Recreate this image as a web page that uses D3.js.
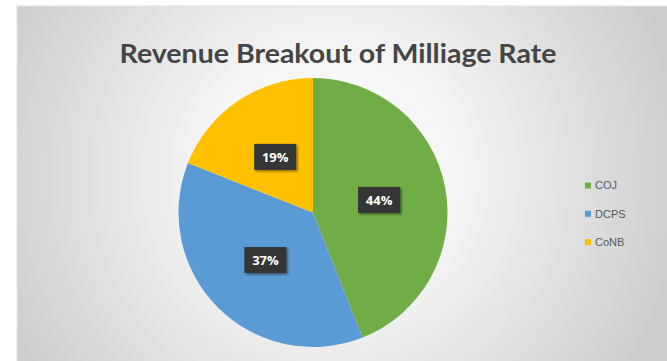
<!DOCTYPE html>
<html>
<head>
<meta charset="utf-8">
<script src="https://cdn.jsdelivr.net/npm/d3@7"></script>
<style>
  html, body { margin: 0; padding: 0; background: #ffffff; }
  svg { display: block; }
</style>
</head>
<body>
<svg id="chart" width="667" height="361"></svg>
<script>
// Share of millage-rate revenue by recipient
const categories = ["COJ", "DCPS", "CoNB"];
const shares = [44, 37, 19];
const colors = ["#70ad47", "#5b9bd5", "#ffc000"];
const titleText = "Revenue Breakout of Milliage Rate";

const svg = d3.select("#chart");
const W = 667, H = 361;

const defs = svg.append("defs");
const bg = defs.append("radialGradient")
  .attr("id", "bgGrad")
  .attr("gradientUnits", "userSpaceOnUse")
  .attr("cx", 330).attr("cy", 175).attr("r", 360);
bg.append("stop").attr("offset", "0%").attr("stop-color", "#ffffff");
bg.append("stop").attr("offset", "35%").attr("stop-color", "#f5f5f5");
bg.append("stop").attr("offset", "100%").attr("stop-color", "#cccccc");

const shadow = defs.append("filter").attr("id", "boxShadow")
  .attr("x", "-30%").attr("y", "-30%").attr("width", "160%").attr("height", "160%");
shadow.append("feDropShadow")
  .attr("dx", 1.5).attr("dy", 1.5).attr("stdDeviation", 1.2)
  .attr("flood-color", "#000").attr("flood-opacity", 0.45);

// Chart frame
svg.append("rect")
  .attr("x", 17).attr("y", 6)
  .attr("width", W - 17 + 2).attr("height", H - 6 + 2)
  .attr("fill", "url(#bgGrad)")
  .attr("stroke", "#e4e4e4").attr("stroke-width", 1);

// Title
svg.append("text")
  .attr("x", 338).attr("y", 63)
  .attr("text-anchor", "middle")
  .attr("font-family", "Lato, 'Open Sans', sans-serif")
  .attr("font-weight", "bold")
  .attr("font-size", 26)
  .attr("fill", "#454545")
  .attr("textLength", 437)
  .attr("lengthAdjust", "spacingAndGlyphs")
  .text(titleText);

// Pie
const cx = 313, cy = 212.5, R = 134.5;
const pie = d3.pie().sort(null).value(d => d.v);
const arcs = pie(categories.map((c, i) => ({ c, v: shares[i], col: colors[i] })));
const arc = d3.arc().innerRadius(0).outerRadius(R);

const g = svg.append("g").attr("transform", `translate(${cx},${cy})`);
g.selectAll("path.slice")
  .data(arcs)
  .join("path")
  .attr("class", "slice")
  .attr("d", arc)
  .attr("fill", d => d.data.col);

// Value labels in dark boxes
const lab = g.selectAll("g.lab")
  .data(arcs)
  .join("g")
  .attr("class", "lab")
  .attr("transform", d => {
    const [x, y] = arc.centroid(d);
    return `translate(${x},${y})`;
  });
lab.append("rect")
  .attr("x", -21).attr("y", -13)
  .attr("width", 42).attr("height", 26)
  .attr("fill", "#363636")
  .attr("filter", "url(#boxShadow)");
lab.append("text")
  .attr("text-anchor", "middle")
  .attr("dy", "0.36em")
  .attr("font-family", "'Open Sans', 'DejaVu Sans', sans-serif")
  .attr("font-weight", "bold")
  .attr("font-size", 13)
  .attr("fill", "#ffffff")
  .text(d => d.data.v + "%");

// Legend
const legend = svg.append("g").attr("transform", "translate(585,185.5)");
const item = legend.selectAll("g")
  .data(categories)
  .join("g")
  .attr("transform", (d, i) => `translate(0,${i * 28.3})`);
item.append("rect")
  .attr("x", 0).attr("y", -3)
  .attr("width", 6).attr("height", 6)
  .attr("fill", (d, i) => colors[i]);
item.append("text")
  .attr("x", 10).attr("y", 0)
  .attr("dy", "0.35em")
  .attr("font-family", "'Liberation Sans', Arial, sans-serif")
  .attr("font-size", 11)
  .attr("fill", "#595959")
  .text(d => d);
</script>
</body>
</html>
